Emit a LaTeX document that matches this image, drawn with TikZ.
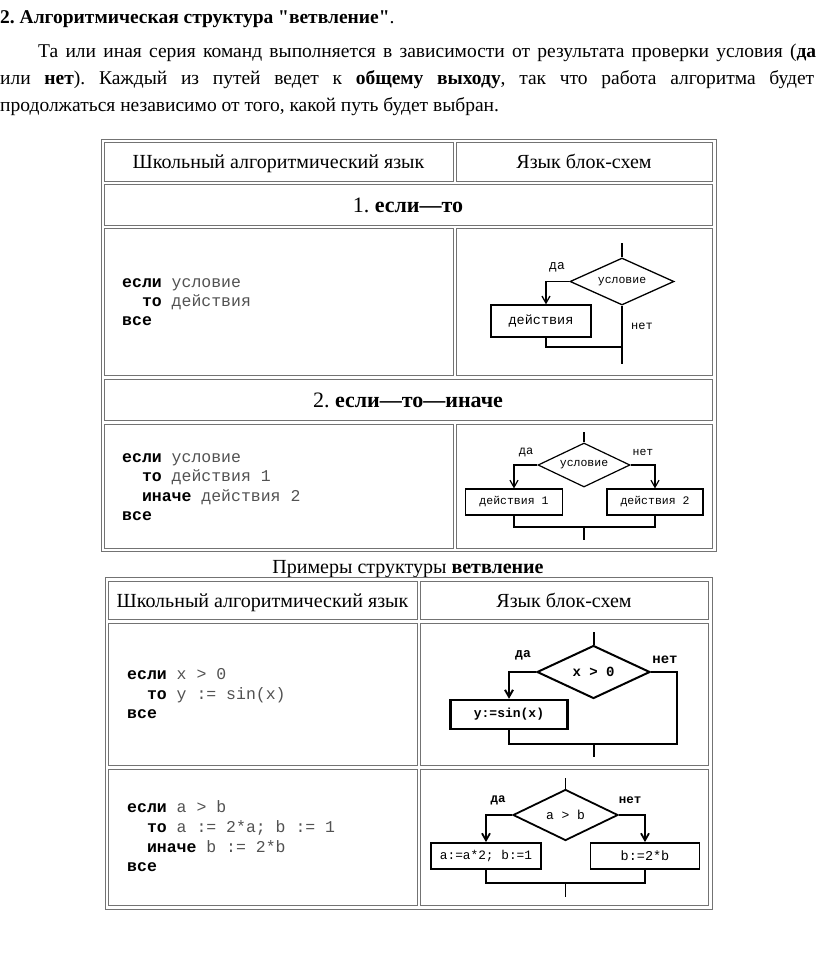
\documentclass[tikz,border=0pt]{standalone}
\usepackage{fontspec}
\setmainfont{Liberation Serif}
\newfontfamily\codefont{Liberation Mono}
\usetikzlibrary{shapes.geometric,arrows.meta}
\newcommand{\kwd}[1]{\textbf{\color{black}#1}}
\newcommand{\strq}{\XeTeXglyph\XeTeXcharglyph34\relax}
\frenchspacing
\begin{document}
\begin{tikzpicture}[x=1pt,y=-1pt,
  frame/.style={draw=black!55,line width=1pt},
  cell/.style={draw=black!55,line width=1pt},
  body/.style={inner sep=0pt,anchor=base west,font=\fontsize{19.5}{23}\selectfont},
  head/.style={inner sep=0pt,anchor=base,font=\fontsize{20}{24}\selectfont},
  sect/.style={inner sep=0pt,anchor=base,font=\fontsize{22}{26}\selectfont},
  codeline/.style={inner sep=0pt,anchor=base west,text=black!68,font=\codefont\fontsize{16.5}{19}\selectfont},
  fcl/.style={line width=1.3pt},
  arr/.style={-{Straight Barb[length=7pt,width=8pt]}},
  fcbox/.style={draw,rectangle,inner sep=0pt,line width=1.3pt},
  fcdia/.style={draw,diamond,aspect=2.2,inner sep=0pt,line width=1.3pt},
  lbl/.style={inner sep=0pt,font=\codefont\fontsize{13}{13}\selectfont}
]
\useasboundingbox (0,0) rectangle (816,956);

% ---------- heading and paragraph ----------
\node[body,font=\bfseries\fontsize{19.5}{23}\selectfont] (title) at (0,23) {2. Алгоритмическая структура \strq ветвление\strq\mdseries.};
\node[body] (p1) at (38,57) {\makebox[778pt][s]{Та или иная серия команд выполняется в зависимости от результата проверки условия (\textbf{да}}};
\node[body] (p2) at (0,84) {\makebox[814pt][s]{или \textbf{нет}). Каждый из путей ведет к \textbf{общему выходу}, так что работа алгоритма будет}};
\node[body] (p3) at (0,111) {продолжаться независимо от того, какой путь будет выбран.};

% ---------- table 1 ----------
\draw[frame] (101,139) rectangle (716,551);
\draw[cell] (104,142) rectangle (453,181);
\draw[cell] (456,142) rectangle (712,181);
\draw[cell] (104,184) rectangle (712,225);
\draw[cell] (104,228) rectangle (453,375);
\draw[cell] (456,228) rectangle (712,375);
\draw[cell] (104,379) rectangle (712,420);
\draw[cell] (104,424) rectangle (453,548);
\draw[cell] (456,424) rectangle (712,548);

\node[head] (h1a) at (278.5,168) {Школьный алгоритмический язык};
\node[head] (h1b) at (584,168) {Язык блок-схем};
\node[sect] (s1) at (408,212) {1. \textbf{если—то}};
\node[sect] (s2) at (408,407) {2. \textbf{если—то—иначе}};

% code 1
\node[codeline] (c11) at (122,287) {\kwd{если} условие};
\node[codeline] (c12) at (122,306) {\ \ \kwd{то} действия};
\node[codeline] (c13) at (122,325) {\kwd{все}};
% code 2
\node[codeline] (c21) at (122,462) {\kwd{если} условие};
\node[codeline] (c22) at (122,481) {\ \ \kwd{то} действия 1};
\node[codeline] (c23) at (122,501) {\ \ \kwd{иначе} действия 2};
\node[codeline] (c24) at (122,520) {\kwd{все}};

% flowchart 1
\node[fcdia,minimum width=104pt,minimum height=47pt,font=\codefont\fontsize{11.5}{11.5}\selectfont] (d1) at (622,281.5) {условие};
\node[fcbox,minimum width=100pt,minimum height=32pt,font=\codefont\fontsize{13.5}{13.5}\selectfont] (b1) at (541,321) {действия};
\coordinate (e1) at (622,243);
\coordinate (m1) at (622,347);
\coordinate (x1) at (622,364);
\draw[fcl] (e1) -- (d1.north);
\draw[fcl,arr] (d1.west) -| ([xshift=5pt]b1.north);
\draw[fcl] (d1.south) -- (x1);
\draw[fcl] ([xshift=5pt]b1.south) |- (m1);
\node[lbl] (l1y) at (557,267) {да};
\node[lbl,font=\codefont\fontsize{12}{12}\selectfont] (l1n) at (642,326) {нет};

% flowchart 2
\node[fcdia,minimum width=92pt,minimum height=44pt,line width=1.2pt,font=\codefont\fontsize{11.5}{11.5}\selectfont] (d2) at (584,465) {условие};
\node[fcbox,minimum width=97pt,minimum height=26pt,line width=1.2pt,font=\codefont\fontsize{11.5}{11.5}\selectfont] (b21) at (514,502) {действия 1};
\node[fcbox,minimum width=96pt,minimum height=26pt,line width=1.2pt,font=\codefont\fontsize{11.5}{11.5}\selectfont] (b22) at (655,502) {действия 2};
\coordinate (e2) at (584,432);
\coordinate (m2) at (584,527);
\coordinate (x2) at (584,540);
\draw[fcl,line width=1.2pt] (e2) -- (d2.north);
\draw[fcl,line width=1.2pt,arr] (d2.west) -| (b21.north);
\draw[fcl,line width=1.2pt,arr] (d2.east) -| (b22.north);
\draw[fcl,line width=1.2pt] (b21.south) |- (m2) -| (b22.south);
\draw[fcl,line width=1.2pt] (m2) -- (x2);
\node[lbl,font=\codefont\fontsize{12}{12}\selectfont] (l2y) at (526,452) {да};
\node[lbl,font=\codefont\fontsize{11.5}{11.5}\selectfont] (l2n) at (643,452) {нет};

% ---------- caption ----------
\node[head] (cap) at (408,573) {Примеры структуры \textbf{ветвление}};

% ---------- table 2 ----------
\draw[frame] (105,577) rectangle (712,909);
\draw[cell] (108,581) rectangle (417,619);
\draw[cell] (420,581) rectangle (708,619);
\draw[cell] (108,623) rectangle (417,765);
\draw[cell] (420,623) rectangle (708,765);
\draw[cell] (108,769) rectangle (417,905);
\draw[cell] (420,769) rectangle (708,905);

\node[head] (h2a) at (262.5,607) {Школьный алгоритмический язык};
\node[head] (h2b) at (564,607) {Язык блок-схем};

% code 3
\node[codeline] (c31) at (127,679) {\kwd{если} x > 0};
\node[codeline] (c32) at (127,699) {\ \ \kwd{то} y := sin(x)};
\node[codeline] (c33) at (127,718) {\kwd{все}};
% code 4
\node[codeline] (c41) at (127,812) {\kwd{если} a > b};
\node[codeline] (c42) at (127,832) {\ \ \kwd{то} a := 2*a; b := 1};
\node[codeline] (c43) at (127,852) {\ \ \kwd{иначе} b := 2*b};
\node[codeline] (c44) at (127,871) {\kwd{все}};

% flowchart 3
\node[fcdia,minimum width=113pt,minimum height=53pt,line width=2pt,font=\codefont\bfseries\fontsize{14}{14}\selectfont] (d3) at (593.5,672) {x > 0};
\node[fcbox,minimum width=117pt,minimum height=29pt,line width=2.4pt,font=\codefont\bfseries\fontsize{13}{13}\selectfont] (b3) at (509,714.5) {y:=sin(x)};
\coordinate (e3) at (593.5,632);
\coordinate (c3) at (677,744);
\coordinate (m3) at (593.5,744);
\coordinate (x3) at (593.5,757);
\draw[fcl,line width=2pt] (e3) -- (d3.north);
\draw[fcl,line width=2pt,arr] (d3.west) -| (b3.north);
\draw[fcl,line width=2pt] (d3.east) -| (c3) -| (b3.south);
\draw[fcl,line width=2pt] (m3) -- (x3);
\node[lbl,font=\codefont\bfseries\fontsize{13}{13}\selectfont] (l3y) at (523,655) {да};
\node[lbl,font=\codefont\bfseries\fontsize{14}{14}\selectfont] (l3n) at (665,660) {нет};

% flowchart 4
\node[fcdia,minimum width=105pt,minimum height=51pt,line width=1.8pt,font=\codefont\fontsize{13}{13}\selectfont] (d4) at (565.5,815) {a > b};
\node[fcbox,minimum width=110pt,minimum height=26pt,line width=1.8pt,font=\codefont\fontsize{12.8}{12.8}\selectfont] (b41) at (486,856) {a:=a*2; b:=1};
\node[fcbox,minimum width=109pt,minimum height=26pt,line width=1.8pt,font=\codefont\fontsize{13.5}{13.5}\selectfont] (b42) at (645,856) {b:=2*b};
\coordinate (e4) at (565.5,778);
\coordinate (m4) at (565.5,883);
\coordinate (x4) at (565.5,897);
\draw[fcl,line width=1.8pt] (e4) -- (d4.north);
\draw[fcl,line width=1.8pt,arr] (d4.west) -| (b41.north);
\draw[fcl,line width=1.8pt,arr] (d4.east) -| (b42.north);
\draw[fcl,line width=1.8pt] (b41.south) |- (m4) -| (b42.south);
\draw[fcl,line width=1.8pt] (m4) -- (x4);
\node[lbl,font=\codefont\bfseries\fontsize{12.5}{12.5}\selectfont] (l4y) at (498,800) {да};
\node[lbl,font=\codefont\bfseries\fontsize{12.5}{12.5}\selectfont] (l4n) at (630,800) {нет};
\end{tikzpicture}
\end{document}
